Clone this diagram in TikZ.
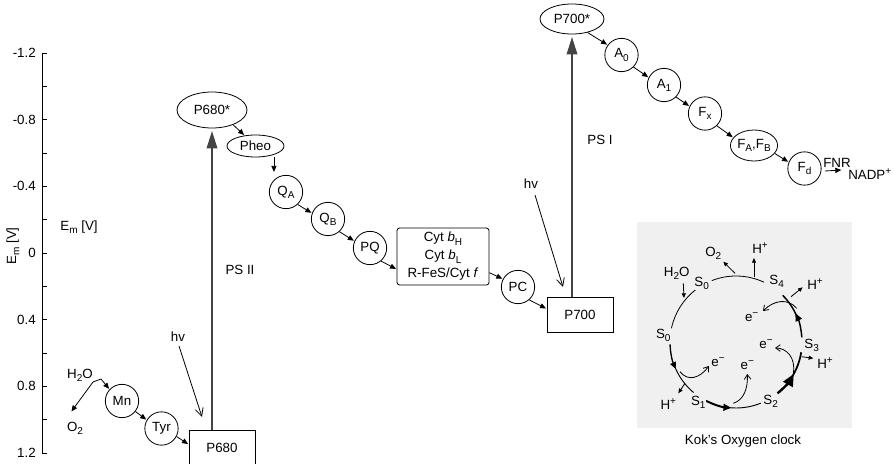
\documentclass[tikz,border=0pt]{standalone}
\usepackage{fontspec}
\setmainfont{Liberation Sans}
\usetikzlibrary{arrows.meta,shapes.geometric,calc}
\definecolor{kokbg}{HTML}{F0F0F0}
\definecolor{psline}{HTML}{444444}
% lowered and raised indices in the label font
\newcommand{\lowidx}[1]{\raisebox{-0.45ex}{\fontsize{7.5}{8}\selectfont #1}}
\newcommand{\highidx}[1]{\raisebox{0.75ex}{\fontsize{7.5}{8}\selectfont #1}}

\begin{document}
\begin{tikzpicture}[x=0.75pt,y=-0.75pt,
  every node/.style={font=\fontsize{10}{12}\selectfont, inner sep=0pt},
  carrier/.style={draw, circle, minimum size=25pt, line width=0.6pt},
  oval/.style={draw, ellipse, line width=0.6pt},
  centerbox/.style={draw, rectangle, line width=0.6pt, minimum width=49.5pt, minimum height=26.25pt},
  flow/.style={-{Triangle[length=4.5pt,width=3.8pt]}, line width=0.6pt, shorten >=0.5pt},
  excite/.style={-{Triangle[length=13pt,width=8pt]}, line width=1pt, draw=psline, shorten >=2pt},
  light/.style={-{Straight Barb[length=6pt,width=6pt]}, line width=0.6pt},
  ejected/.style={-{Straight Barb[length=3.5pt,width=5pt]}, line width=0.6pt},
  release/.style={-{Triangle[length=3.5pt,width=3pt]}, line width=0.6pt},
  state/.style={fill=kokbg, inner sep=0.5pt},
]
\useasboundingbox (0,0) rectangle (893,464);

% potential axis
\draw[line width=0.6pt] (42,53) -- (42,453);
\foreach \i in {0,...,12} \draw[line width=0.6pt] (42,{53+\i*33.333}) -- (47,{53+\i*33.333});
\foreach \v/\i in {-1.2/0,-0.8/2,-0.4/4,0/6,0.4/8,0.8/10,1.2/12}
  \node[anchor=east] (tick\i) at (36,{53+\i*33.333}) {\v};
\node[rotate=90] (axlabel) at (13,246) {E\lowidx{m} [V]};
\node (emlabel) at (79,227) {E\lowidx{m} [V]};

% water splitting side
\node (h2o) at (80,375) {H\lowidx{2}O};
\node (o2) at (75,428) {O\lowidx{2}};
\node[carrier] (mn) at (122,401) {Mn};
\node[carrier] (tyr) at (161.5,428.5) {Tyr};
\coordinate (hooka) at (93,382);
\coordinate (hookb) at (101,379);
\coordinate (o2tip) at (71,412);
\draw[flow] (hooka) -- (o2tip);
\draw[flow] (hooka) -- (hookb) -- (mn.137);
\draw[flow] (mn.-38) -- (tyr.150);

% photosystem II
\node[centerbox] (p680) at (222,448) {P680};
\node[oval, minimum width=52.5pt, minimum height=27pt] (p680s) at (212,110) {P680*};
\draw[flow] (tyr.-28) -- ($(p680.north west)!0.4!(p680.south west)$);
\draw[excite] (p680s.south |- p680.north) -- (p680s.south);
\node (ps2) at (240,270) {PS II};
\node (hv2) at (178,337) {hv};
\coordinate (hv2start) at (179,346);
\coordinate (hv2tip) at (202,417);
\draw[light] (hv2start) -- (hv2tip);

% electron transport chain
\node[oval, minimum width=42.75pt, minimum height=16.5pt] (pheo) at (255.5,146) {Pheo};
\node[carrier] (qa) at (286,192) {Q\lowidx{A}};
\node[carrier] (qb) at (328,219) {Q\lowidx{B}};
\node[carrier] (pq) at (370,248) {PQ};
\node[draw, line width=0.6pt, rounded corners=2pt, minimum width=69pt, minimum height=42.75pt,
  align=center, font=\fontsize{10}{13.5}\selectfont] (cyt) at (443,256.5)
  {Cyt \textit{b}\lowidx{H}\\Cyt \textit{b}\lowidx{L}\\R-FeS/Cyt \textit{f}};
\node[carrier] (pc) at (518,287) {PC};
\draw[flow] (p680s.-35) -- (pheo.136);
\draw[flow, shorten >=6pt] (pheo.south -| qa.135) -- (qa.135);
\draw[flow] (qa.-47) -- (qb.160);
\draw[flow] (qb.-48) -- (pq.156);
\draw[flow] (pq.-50) -- ($(cyt.north west)!0.72!(cyt.south west)$);
\draw[flow] ($(cyt.north east)!0.78!(cyt.south east)$) -- (pc.152);

% photosystem I
\node[centerbox] (p700) at (580,314.5) {P700};
\node[oval, minimum width=48pt, minimum height=22.5pt] (p700s) at (572,19) {P700*};
\draw[flow] (pc.-49) -- ($(p700.north west)!0.34!(p700.south west)$);
\draw[excite] (p700s.south |- p700.north) -- (p700s.south);
\node (ps1) at (600,140) {PS I};
\node (hv1) at (531,184) {hv};
\coordinate (hv1start) at (535,195);
\coordinate (hv1tip) at (563,287);
\draw[light] (hv1start) -- (hv1tip);

\node[carrier] (a0) at (621.5,55) {A\lowidx{0}};
\node[carrier] (a1) at (664,85) {A\lowidx{1}};
\node[carrier] (fx) at (705,113.5) {F\lowidx{x}};
\node[oval, minimum width=34.5pt, minimum height=23.25pt] (fab) at (754,145.5) {F\lowidx{A},F\lowidx{B}};
\node[carrier] (fd) at (804.5,168.5) {F\lowidx{d}};
\draw[flow] (p700s.-41) -- (a0.144);
\draw[flow] (a0.-45) -- (a1.154);
\draw[flow] (a1.-45) -- (fx.155);
\draw[flow] (fx.-46) -- (fab.159);
\draw[flow] (fab.-21) -- (fd.158);
\node[anchor=west] (fnr) at (823,163) {FNR};
\node[anchor=west] (nadp) at (848,174) {NADP\highidx{+}};
\coordinate (fnrin) at (825,171);
\coordinate (fnrout) at (842,170);
\draw[flow] (fnrin) -- (fnrout);

% Kok's oxygen clock
\fill[kokbg] (637,222) rectangle (852,428);
\node (kokcap) at (743,441) {Kok’s Oxygen clock};
\begin{scope}[shift={(736,342)}, x=0.75pt, y=0.75pt]
  % S4 -> S0 (top)
  \draw[line width=0.6pt] (111.5:66) arc[start angle=111.5, end angle=65, radius=66];
  % S3 -> S4
  \draw[line width=1.1pt, -{Triangle[length=6pt,width=5pt]}] (4:66) arc[start angle=4, end angle=26, radius=66];
  \draw[line width=1.1pt] (24:66) arc[start angle=24, end angle=45, radius=66];
  % S2 -> S3
  \draw[line width=1.8pt, -{Triangle[length=9pt,width=8pt]}] (-51:66) arc[start angle=-51, end angle=-29, radius=66];
  \draw[line width=1.3pt] (-32:66) arc[start angle=-32, end angle=-9, radius=66];
  % S1 -> S2
  \draw[line width=1.5pt, -{Triangle[length=6pt,width=5pt]}] (-117:66) arc[start angle=-117, end angle=-94, radius=66];
  \draw[line width=0.7pt] (-96:66) arc[start angle=-96, end angle=-68, radius=66];
  % S0 -> S1
  \draw[line width=1pt, -{Triangle[length=5pt,width=4.5pt]}] (182:66) arc[start angle=182, end angle=204, radius=66];
  \draw[line width=0.7pt] (202:66) arc[start angle=202, end angle=230, radius=66];
  % S0 (left) -> S0 (top)
  \draw[line width=0.6pt] (168:66) arc[start angle=168, end angle=127, radius=66];

  % water in, oxygen and protons out
  \coordinate (kwin) at (-52.7,58.7);
  \coordinate (kwtip) at (-52,44);
  \draw[release] (kwin) -- (kwtip);
  \coordinate (ko2base) at (-1,68.7);
  \coordinate (ko2tip) at (-12.7,80.3);
  \draw[release] (ko2base) -- (ko2tip);
  \coordinate (khabase) at (18,65.3);
  \coordinate (khatip) at (18,84);
  \draw[release] (khabase) -- (khatip);
  \coordinate (khbbase) at (55,45.3);
  \coordinate (khbtip) at (66.7,54.7);
  \draw[release] (khbbase) -- (khbtip);
  \coordinate (khcbase) at (65.7,-14.7);
  \coordinate (khctip) at (77.3,-16.3);
  \draw[release] (khcbase) -- (khctip);
  \coordinate (khdbase) at (-51,-41.3);
  \coordinate (khdtip) at (-57.7,-51.3);
  \draw[release] (khdbase) -- (khdtip);

  % electrons leaving at each step
  \coordinate (kea) at (60.7,33.7);
  \coordinate (keatip) at (27,31);
  \draw[ejected] (kea) .. controls (52,44) and (38,42) .. (keatip);
  \coordinate (keb) at (57.3,-31.3);
  \coordinate (kebtip) at (39,-6);
  \draw[ejected] (keb) .. controls (60,-15) and (50,-6) .. (kebtip);
  \coordinate (kec) at (-2.7,-61.3);
  \coordinate (kectip) at (11.3,-32);
  \draw[ejected] (kec) .. controls (8,-58) and (12,-46) .. (kectip);
  \coordinate (ked) at (-56,-29.7);
  \coordinate (kedtip) at (-27,-24);
  \draw[ejected] (ked) .. controls (-48,-40) and (-36,-36) .. (kedtip);
\end{scope}

% clock labels
\node[state] (s0top) at (701.7,283.3) {S\lowidx{0}};
\node[state] (s4) at (776.7,281.7) {S\lowidx{4}};
\node[state] (s3) at (811.7,345) {S\lowidx{3}};
\node[state] (s2) at (770.7,401.7) {S\lowidx{2}};
\node[state] (s1) at (698.3,402.7) {S\lowidx{1}};
\node[state] (s0left) at (663.3,335) {S\lowidx{0}};
\node (kh2o) at (676.7,273.3) {H\lowidx{2}O};
\node (ko2) at (713.3,253.3) {O\lowidx{2}};
\node (kha) at (760,248.3) {H\highidx{+}};
\node (khb) at (815,284) {H\highidx{+}};
\node (khc) at (825,363.3) {H\highidx{+}};
\node (khd) at (668.3,404) {H\highidx{+}};
\node (kela) at (751.7,317.3) {e\highidx{−}};
\node (kelb) at (766,344) {e\highidx{−}};
\node (kelc) at (747.3,365) {e\highidx{−}};
\node (keld) at (718,362) {e\highidx{−}};
\end{tikzpicture}
\end{document}
